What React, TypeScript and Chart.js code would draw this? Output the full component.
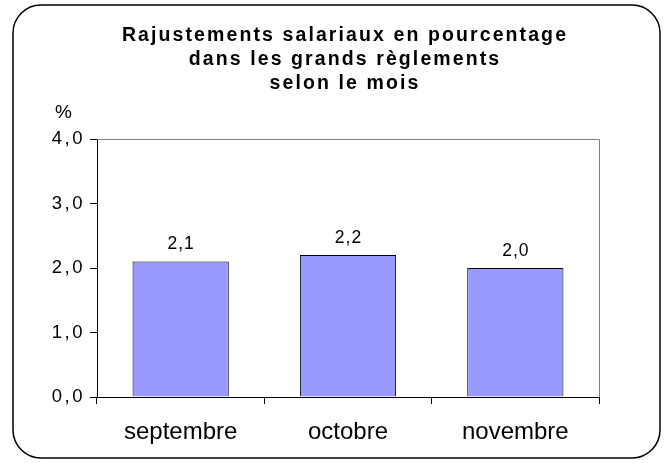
import React, { useEffect, useRef } from "react";
import { Chart, registerables } from "chart.js";

Chart.register(...registerables);

const titleLines = [
  "Rajustements salariaux en pourcentage",
  "dans les grands règlements",
  "selon le mois",
];
const categories = ["septembre", "octobre", "novembre"];
const values = [2.1, 2.2, 2.0];
const yTicks = [0, 1, 2, 3, 4];
const unitLabel = "%";

const FONT = "'Liberation Sans', Arial, sans-serif";
const fmt = (v: number) => v.toFixed(1).replace(".", ",");

const decorPlugin = {
  id: "decor",
  beforeDraw(chart: any) {
    const ctx = chart.ctx;
    (ctx as any).letterSpacing = "0px";
    ctx.save();
    ctx.fillStyle = "#ffffff";
    ctx.fillRect(0, 0, chart.width, chart.height);
    ctx.strokeStyle = "#000000";
    ctx.lineWidth = 1.5;
    ctx.beginPath();
    ctx.roundRect(13, 5, 647, 453, 28);
    ctx.stroke();
    // title
    ctx.fillStyle = "#000000";
    ctx.font = `bold 19.5px ${FONT}`;
    (ctx as any).letterSpacing = "2.1px";
    ctx.textAlign = "center";
    ctx.textBaseline = "alphabetic";
    const baselines = [41, 65, 89];
    titleLines.forEach((t, i) => ctx.fillText(t, 345, baselines[i]));
    (ctx as any).letterSpacing = "0px";
    ctx.font = `19px ${FONT}`;
    ctx.textAlign = "left";
    ctx.fillText(unitLabel, 55, 118);
    ctx.restore();
  },
  beforeDatasetsDraw(chart: any) {
    const { ctx, chartArea } = chart;
    ctx.save();
    ctx.strokeStyle = "#808080";
    ctx.lineWidth = 1;
    ctx.beginPath();
    ctx.moveTo(chartArea.left, chartArea.top + 0.5);
    ctx.lineTo(chartArea.right + 0.5, chartArea.top + 0.5);
    ctx.lineTo(chartArea.right + 0.5, chartArea.bottom);
    ctx.stroke();
    ctx.restore();
  },
  afterDatasetsDraw(chart: any) {
    const ctx = chart.ctx;
    const meta = chart.getDatasetMeta(0);
    ctx.save();
    ctx.fillStyle = "#000000";
    ctx.font = `17.5px ${FONT}`;
    (ctx as any).letterSpacing = "1px";
    ctx.textAlign = "center";
    ctx.textBaseline = "alphabetic";
    meta.data.forEach((bar: any, i: number) => {
      ctx.fillText(fmt(values[i]), bar.x + 0.5, bar.y - 12.5);
    });
    ctx.restore();
    // y tick labels (z: 1) are drawn after this hook, with wider spacing
    (ctx as any).letterSpacing = "2.5px";
  },
  afterDraw(chart: any) {
    (chart.ctx as any).letterSpacing = "0px";
  },
};

export default function App() {
  const ref = useRef<HTMLCanvasElement>(null);
  useEffect(() => {
    const chart = new Chart(ref.current!, {
      type: "bar",
      data: {
        labels: categories,
        datasets: [
          {
            data: values,
            backgroundColor: "#9999FF",
            borderColor: "#000000",
            borderWidth: 1,
            categoryPercentage: 1,
            barPercentage: 0.575,
          },
        ],
      },
      options: {
        animation: false,
        responsive: false,
        devicePixelRatio: 1,
        layout: { padding: { left: 0, top: 139, right: 66, bottom: 0 } },
        plugins: {
          legend: { display: false },
          title: { display: false },
          tooltip: { enabled: false },
        },
        scales: {
          x: {
            grid: {
              offset: true,
              drawOnChartArea: false,
              drawTicks: true,
              tickLength: 7,
              color: "#000000",
            },
            border: { color: "#000000", width: 1 },
            ticks: {
              color: "#000000",
              font: { family: FONT, size: 24 },
              padding: 14,
            },
            afterFit: (s: any) => {
              s.height = 66;
            },
          },
          y: {
            min: 0,
            max: 4,
            afterBuildTicks: (s: any) => {
              s.ticks = yTicks.map((v) => ({ value: v }));
            },
            grid: {
              drawOnChartArea: false,
              drawTicks: true,
              tickLength: 7,
              color: "#000000",
            },
            border: { color: "#000000", width: 1 },
            ticks: {
              z: 1,
              color: "#000000",
              font: { family: FONT, size: 18.5 },
              padding: 5,
              callback: (v: any) => fmt(Number(v)),
            },
            afterFit: (s: any) => {
              s.width = 97;
            },
          },
        },
      },
      plugins: [decorPlugin],
    });
    return () => chart.destroy();
  }, []);
  return (
    <div style={{ position: "fixed", left: 0, top: 0, width: 665, height: 463 }}>
      <canvas ref={ref} width={665} height={463} />
    </div>
  );
}
